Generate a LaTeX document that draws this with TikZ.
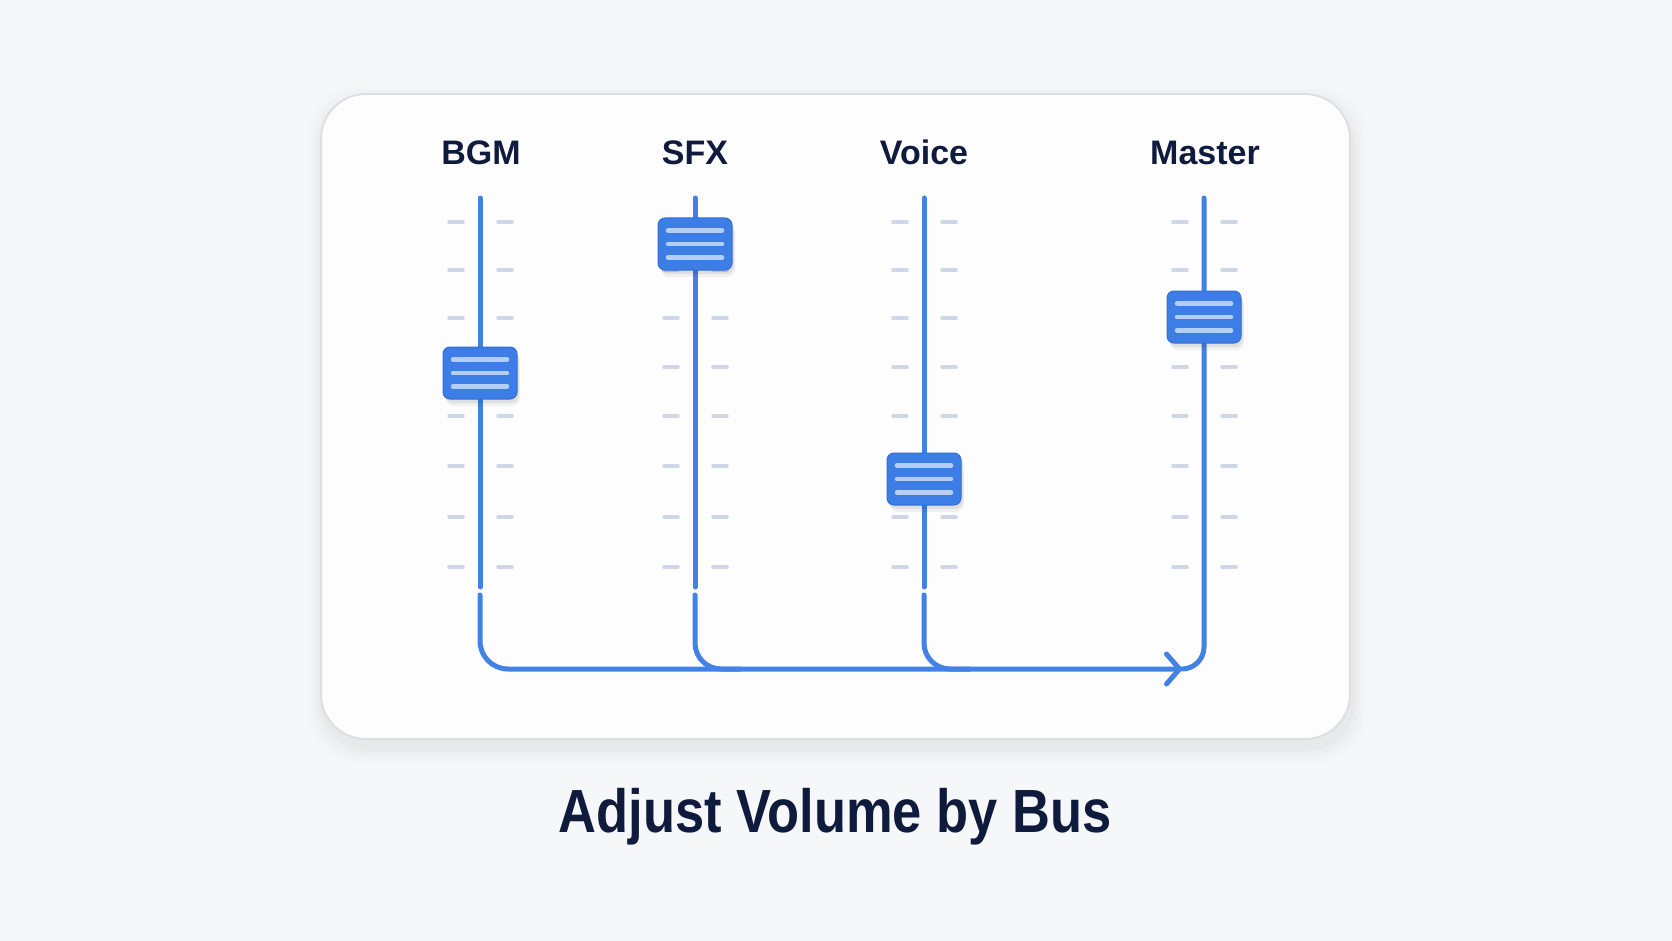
\documentclass[tikz,border=0pt]{standalone}
\usepackage{fontspec}
\setmainfont{Liberation Sans}
\usetikzlibrary{arrows.meta}
\definecolor{bg}{HTML}{F6F7F9}
\definecolor{cardfill}{HTML}{FDFDFE}
\definecolor{cardborder}{HTML}{DCDFE4}
\definecolor{trackblue}{HTML}{4282E6}
\definecolor{knobfill}{HTML}{3D7EE6}
\definecolor{knobborder}{HTML}{326ED6}
\definecolor{knobline}{HTML}{B3CFF8}
\definecolor{tickcol}{HTML}{CDD7E7}
\definecolor{navy}{HTML}{0F1B3D}
\tikzset{
  track/.style={draw=trackblue, line width=5pt, line cap=round, line join=round},
  tickmark/.style={draw=tickcol, line width=3.5pt, line cap=round},
  knob/.style={rectangle, minimum width=74pt, minimum height=52pt, rounded corners=7pt,
    fill=knobfill, draw=knobborder, line width=1pt, inner sep=0pt},
  knobshadow/.style={rectangle, minimum width=74pt, minimum height=52pt, rounded corners=8pt,
    fill=black, draw=none, inner sep=0pt},
  knobstripe/.style={draw=knobline, line width=4.5pt, line cap=round},
  lbl/.style={anchor=base, text=navy, font=\fontsize{34}{40}\selectfont\bfseries},
}
\begin{document}
\begin{tikzpicture}[x=1pt,y=-1pt]
\useasboundingbox (0,0) rectangle (1672,941);
\fill[bg] (0,0) rectangle (1672,941);
% card shadow
\foreach \g/\o in {16/0.008,12/0.012,8/0.015,4/0.018}{
  \fill[black, opacity=\o, rounded corners=50pt] (321-\g+2,94-\g+8) rectangle (1350+\g+2,739+\g+8);
}
\draw[draw=cardborder, line width=2pt, fill=cardfill, rounded corners=45pt] (321,94) rectangle (1350,739);

% labels
\node[lbl] (lBGM) at (481,165) {BGM};
\node[lbl] (lSFX) at (695,165) {SFX};
\node[lbl] (lVoice) at (924,165) {Voice};
\node[lbl] (lMaster) at (1205,165) {Master};

% ticks
\foreach \x in {480,695,924,1204}{
  \foreach \y in {222,270,318,367,416,466,517,567}{
    \draw[tickmark] (\x-31,\y) -- (\x-17,\y);
    \draw[tickmark] (\x+18,\y) -- (\x+32,\y);
  }
}

% coordinates
\coordinate (tB) at (480,198);
\coordinate (tS) at (695,198);
\coordinate (tV) at (924,198);
\coordinate (tM) at (1204,198);
\coordinate (eB) at (480,587);
\coordinate (eS) at (695,587);
\coordinate (eV) at (924,587);
\coordinate (sB) at (480,595);
\coordinate (sS) at (695,595);
\coordinate (sV) at (924,595);
\coordinate (jS) at (740,669);
\coordinate (jV) at (970,669);
\coordinate (tip) at (1182,669);

% tracks
\draw[track] (tB) -- (eB);
\draw[track] (tS) -- (eS);
\draw[track] (tV) -- (eV);
\draw[track, rounded corners=22pt] (tM) |- (tip);

% bus
\draw[track, rounded corners=28pt, -{Straight Barb[length=13pt, width=30pt, round]}] (sB) |- (tip);
\draw[track, rounded corners=26pt] (sS) |- (jS);
\draw[track, rounded corners=26pt] (sV) |- (jV);

% knobs
\foreach \n/\x/\y in {kB/480/373, kS/695/244, kV/924/479, kM/1204/317}{
  \node[knobshadow, opacity=0.05] at (\x+3,\y+7) {};
  \node[knobshadow, opacity=0.07] at (\x+2,\y+4) {};
  \node[knob] (\n) at (\x,\y) {};
  \foreach \d in {-13.5,0,13.5}{
    \draw[knobstripe] ([xshift=-27pt,yshift=\d pt]\n.center) -- ([xshift=27pt,yshift=\d pt]\n.center);
  }
}

% title
\node[anchor=base, text=navy] (title) at (835,832)
  {\scalebox{0.86}[1]{\fontsize{61}{70}\selectfont\bfseries Adjust Volume by Bus}};
\end{tikzpicture}
\end{document}
